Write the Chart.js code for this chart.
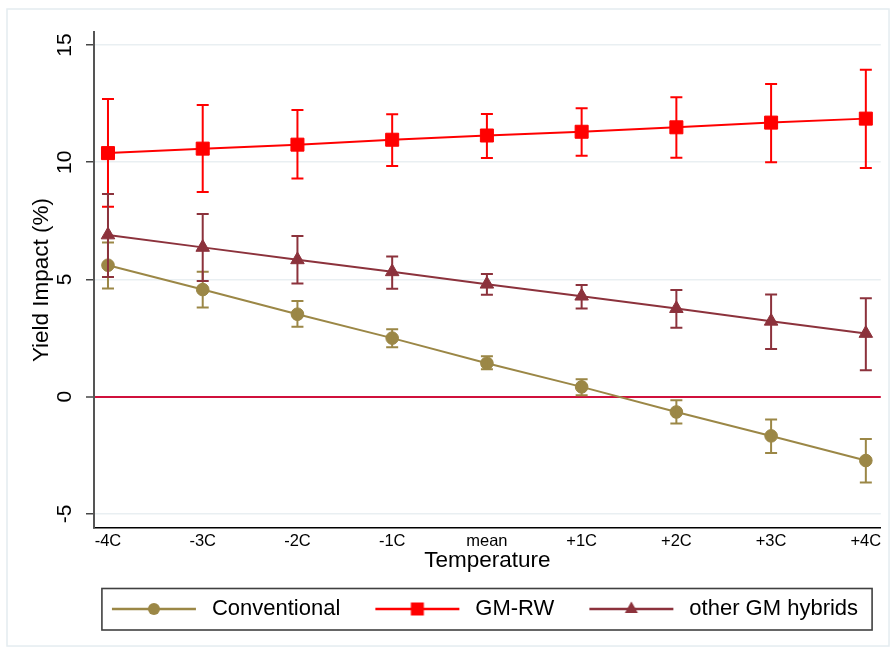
<!DOCTYPE html>
<html><head><meta charset="utf-8">
<script src="https://cdn.jsdelivr.net/npm/chart.js@4.4.0/dist/chart.umd.min.js"></script>
<style>html,body{margin:0;padding:0;background:#fff;}#wrap{width:891px;height:655px;}</style>
</head><body><div id="wrap"><canvas id="c" width="891" height="655"></canvas></div>
<script>
// ---- data ----
const xLabels = ['-4C','-3C','-2C','-1C','mean','+1C','+2C','+3C','+4C'];
const xValues = [-4,-3,-2,-1,0,1,2,3,4];
const yTickValues = [-5,0,5,10,15];
const seriesNames = ['Conventional','GM-RW','other GM hybrids'];

const conventional     = [5.61, 4.57, 3.52, 2.50, 1.43, 0.42, -0.65, -1.67, -2.72];
const conventionalLow  = [4.62, 3.81, 2.98, 2.11, 1.17, 0.06, -1.14, -2.40, -3.66];
const conventionalHigh = [6.58, 5.33, 4.08, 2.88, 1.73, 0.75, -0.15, -0.97, -1.80];

const gmrw     = [10.39, 10.58, 10.75, 10.96, 11.14, 11.30, 11.49, 11.69, 11.86];
const gmrwLow  = [8.10, 8.73, 9.31, 9.84, 10.18, 10.28, 10.19, 10.00, 9.75];
const gmrwHigh = [12.70, 12.44, 12.23, 12.05, 12.06, 12.30, 12.77, 13.34, 13.94];

const otherGM     = [6.90, 6.37, 5.84, 5.33, 4.80, 4.29, 3.76, 3.22, 2.70];
const otherGMLow  = [5.11, 4.94, 4.83, 4.61, 4.35, 3.76, 2.94, 2.04, 1.13];
const otherGMHigh = [8.65, 7.79, 6.86, 5.98, 5.23, 4.76, 4.55, 4.36, 4.20];

// ---- styles ----
const FONT = "'Liberation Sans', Arial, sans-serif";
const C_OLIVE = 'rgb(155,135,70)';
const C_RED = 'rgb(255,0,0)';
const C_MAROON = 'rgb(140,50,60)';
const C_ZERO = 'rgb(208,16,60)';
const C_GRID = 'rgb(233,239,242)';

const styles = [
  {color: C_OLIVE, point: 'circle', radius: 6.3},
  {color: C_RED, point: 'rect', radius: 9.2},
  {color: C_MAROON, point: 'triangle', radius: 7.8}
];
const mains = [conventional, gmrw, otherGM];
const lows = [conventionalLow, gmrwLow, otherGMLow];
const highs = [conventionalHigh, gmrwHigh, otherGMHigh];

function makeSymbol(color, kind){
  const cv = document.createElement('canvas');
  cv.width = 114; cv.height = 22;
  const g = cv.getContext('2d');
  g.strokeStyle = color; g.lineWidth = 2.5;
  g.beginPath(); g.moveTo(25, 11); g.lineTo(109, 11); g.stroke();
  g.fillStyle = color;
  const cx = 67, cy = 11;
  g.beginPath();
  if (kind === 'circle') { g.arc(cx, cy, 6, 0, Math.PI*2); }
  else if (kind === 'rect') { g.rect(cx-6.5, cy-6.5, 13, 13); }
  else { g.moveTo(cx, cy-7.5); g.lineTo(cx+6.5, cy+4); g.lineTo(cx-6.5, cy+4); g.closePath(); }
  g.fill();
  return cv;
}
const symbols = styles.map(s => makeSymbol(s.color, s.point));

const datasets = seriesNames.map((name, k) => ({
  label: name,
  data: xValues.map((x, i) => ({x: x, y: mains[k][i]})),
  borderColor: styles[k].color,
  backgroundColor: styles[k].color,
  borderWidth: 2,
  pointStyle: styles[k].point,
  pointRadius: styles[k].radius,
  pointHoverRadius: styles[k].radius,
  pointBorderWidth: 1,
  pointBorderColor: styles[k].color,
  pointBackgroundColor: styles[k].color,
  tension: 0,
  clip: false
}));

const framePlugin = {
  id: 'frame',
  beforeDraw(chart){
    const ctx = chart.ctx;
    ctx.save();
    ctx.fillStyle = '#fff';
    ctx.fillRect(0, 0, chart.width, chart.height);
    ctx.strokeStyle = 'rgb(228,236,240)';
    ctx.lineWidth = 1.5;
    ctx.strokeRect(7, 9, 882, 637);
    ctx.restore();
  },
  afterDatasetsDraw(chart){
    const ctx = chart.ctx;
    const xs = chart.scales.x, ys = chart.scales.y;
    ctx.save();
    ctx.lineWidth = 2;
    for (let k = 0; k < mains.length; k++) {
      ctx.strokeStyle = styles[k].color;
      for (let i = 0; i < xValues.length; i++) {
        const px = xs.getPixelForValue(xValues[i]);
        const pl = ys.getPixelForValue(lows[k][i]);
        const ph = ys.getPixelForValue(highs[k][i]);
        ctx.beginPath();
        ctx.moveTo(px, pl); ctx.lineTo(px, ph);
        ctx.moveTo(px-6, pl); ctx.lineTo(px+6, pl);
        ctx.moveTo(px-6, ph); ctx.lineTo(px+6, ph);
        ctx.stroke();
      }
    }
    ctx.restore();
  },
  afterDraw(chart){
    const ctx = chart.ctx;
    const ys = chart.scales.y;
    ctx.save();
    // y tick labels (rotated)
    ctx.fillStyle = '#000';
    ctx.font = '21px ' + FONT;
    ctx.textAlign = 'center';
    ctx.textBaseline = 'middle';
    yTickValues.forEach(v => {
      const py = ys.getPixelForValue(v);
      ctx.save();
      ctx.translate(65.5, py);
      ctx.rotate(-Math.PI/2);
      ctx.fillText(String(v), 0, 0);
      ctx.restore();
    });
    // y title
    ctx.font = '22.5px ' + FONT;
    ctx.save();
    ctx.translate(42, (chart.chartArea.top + chart.chartArea.bottom)/2);
    ctx.rotate(-Math.PI/2);
    ctx.fillText('Yield Impact (%)', 0, 0);
    ctx.restore();
    // legend border
    const hb = chart.legend.legendHitBoxes;
    if (hb && hb.length) {
      const first = hb[0], last = hb[hb.length-1];
      const l = first.left + 15, r = last.left + last.width + 14;
      const t = first.top - 9.5, b = first.top + first.height + 10;
      ctx.strokeStyle = 'rgb(64,64,64)';
      ctx.lineWidth = 1.6;
      ctx.strokeRect(l, t, r - l, b - t);
    }
    ctx.restore();
  }
};

new Chart(document.getElementById('c'), {
  type: 'line',
  data: {datasets: datasets},
  plugins: [framePlugin],
  options: {
    responsive: false,
    animation: false,
    events: [],
    layout: {padding: {left: 63, right: 9, top: 32, bottom: 25}},
    plugins: {
      tooltip: {enabled: false},
      legend: {
        display: true,
        position: 'bottom',
        labels: {
          usePointStyle: true,
          pointStyleWidth: 114,
          padding: 10,
          color: '#000',
          font: {family: FONT, size: 22},
          generateLabels(chart){
            const items = Chart.defaults.plugins.legend.labels.generateLabels(chart);
            return items.map((it, i) => Object.assign(it, {pointStyle: symbols[i], lineWidth: 0}));
          }
        }
      }
    },
    scales: {
      x: {
        type: 'linear',
        min: -4.1476, max: 4.158,
        afterBuildTicks(scale){ scale.ticks = xValues.map(v => ({value: v})); },
        afterFit(scale){ scale.height = 60; },
        grid: {display: false, drawTicks: false},
        border: {display: true, color: '#000', width: 1.5},
        ticks: {
          autoSkip: false, maxRotation: 0, minRotation: 0, padding: 4,
          color: '#000', font: {family: FONT, size: 16.5},
          callback(v, i){ return xLabels[i]; }
        },
        title: {display: true, text: 'Temperature', color: '#000',
                font: {family: FONT, size: 22.5}, padding: {top: 0, bottom: 14.1}}
      },
      y: {
        type: 'linear',
        min: -5.597, max: 15.554,
        afterBuildTicks(scale){ scale.ticks = yTickValues.map(v => ({value: v})); },
        afterFit(scale){ scale.width = 31; },
        grid: {
          display: true, drawTicks: true, tickLength: 8, tickWidth: 1.5, tickColor: 'rgb(70,70,70)',
          color: ctx => (ctx.tick && ctx.tick.value === 0) ? C_ZERO : C_GRID,
          lineWidth: ctx => (ctx.tick && ctx.tick.value === 0) ? 2 : 1.5
        },
        border: {display: true, color: 'rgb(85,85,85)', width: 2},
        ticks: {color: 'rgba(0,0,0,0)', font: {family: FONT, size: 21}}
      }
    }
  }
});
</script>
</body></html>
